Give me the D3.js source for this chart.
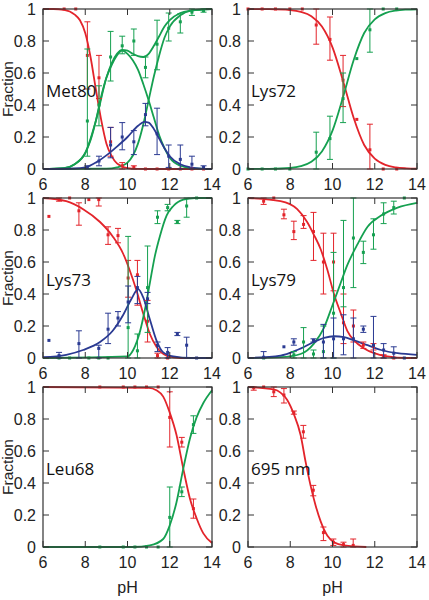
<!DOCTYPE html>
<html><head><meta charset="utf-8">
<script src="https://cdn.jsdelivr.net/npm/d3@7/dist/d3.min.js"></script>
<style>body{margin:0;background:#fff}</style>
</head><body><svg id="c" width="429" height="600"></svg>
<script>
// ---------- tick labels ----------
const xTicks = [6, 8, 10, 12, 14];
const yTicks = [0, 0.2, 0.4, 0.6, 0.8, 1];
const yTickLabels = ["0", "0.2", "0.4", "0.6", "0.8", "1"];
const panelNames = ["Met80", "Lys72", "Lys73", "Lys79", "Leu68", "695 nm"];

// ---------- fitted curves [pH, fraction] ----------
const met80Red = [[6,1],[6.5,1],[7,0.995],[7.5,0.965],[7.75,0.93],[8,0.85],[8.25,0.7],[8.5,0.5],[8.75,0.31],[9,0.16],[9.25,0.08],[9.5,0.035],[10,0.006],[10.5,0.001],[11,0],[14,0]];
const met80GreenB = [[6,0],[7,0.005],[7.5,0.03],[8,0.1],[8.25,0.18],[8.5,0.3],[8.75,0.45],[9,0.57],[9.25,0.65],[9.5,0.71],[9.75,0.74],[10,0.72],[10.25,0.68],[10.5,0.62],[10.75,0.53],[11,0.43],[11.25,0.32],[11.5,0.21],[11.75,0.13],[12,0.07],[12.5,0.02],[13,0.005],[14,0]];
const met80GreenD = [[6,0],[9,0.002],[9.5,0.01],[10,0.04],[10.5,0.16],[10.75,0.28],[11,0.43],[11.25,0.58],[11.5,0.71],[11.75,0.82],[12,0.89],[12.5,0.96],[13,0.99],[14,1]];
const met80GreenSum = [[6,0],[7,0.005],[7.5,0.03],[8,0.1],[8.5,0.3],[9,0.57],[9.5,0.72],[9.75,0.745],[10,0.74],[10.25,0.72],[10.5,0.705],[10.75,0.70],[11,0.72],[11.25,0.77],[11.5,0.83],[11.75,0.89],[12,0.93],[12.5,0.975],[13,0.99],[14,1]];
const met80Blue = [[6,0],[7.5,0.003],[8,0.01],[8.5,0.04],[9,0.085],[9.5,0.14],[10,0.2],[10.5,0.27],[10.8,0.295],[11,0.29],[11.25,0.25],[11.5,0.19],[11.75,0.13],[12,0.08],[12.5,0.03],[13,0.01],[13.5,0.002],[14,0]];

const lys72Red = [[6,1],[7,0.999],[8,0.993],[8.5,0.982],[9,0.955],[9.5,0.89],[10,0.76],[10.5,0.55],[11,0.32],[11.5,0.15],[12,0.065],[12.5,0.026],[13,0.01],[13.5,0.004],[14,0.0015]];
const lys72Green = [[6,0],[7,0.001],[8,0.007],[8.5,0.018],[9,0.045],[9.5,0.11],[10,0.24],[10.5,0.45],[11,0.68],[11.5,0.85],[12,0.935],[12.5,0.974],[13,0.99],[13.5,0.996],[14,0.998]];

const lys73Red = [[6,1],[7.1,0.98],[7.9,0.93],[8.7,0.85],[9.3,0.76],[9.8,0.65],[10.1,0.55],[10.43,0.42],[10.74,0.28],[11.06,0.15],[11.37,0.07],[11.85,0.015],[12.5,0],[14,0]];
const lys73Green = [[6,0],[10,0.01],[10.27,0.05],[10.6,0.17],[10.82,0.3],[11.06,0.47],[11.3,0.64],[11.53,0.76],[11.85,0.89],[12.17,0.95],[12.64,0.99],[13.2,1],[14,1]];
const lys73Blue = [[6,0.005],[7.1,0.02],[7.9,0.05],[8.7,0.1],[9.3,0.17],[9.8,0.27],[10.19,0.37],[10.5,0.43],[10.74,0.38],[11.06,0.24],[11.37,0.11],[11.69,0.035],[12.17,0.01],[13,0],[14,0]];

const lys79Red = [[6,1],[7.54,0.98],[8.33,0.93],[8.8,0.85],[9.12,0.77],[9.44,0.68],[9.76,0.55],[10.07,0.4],[10.39,0.28],[10.7,0.17],[11.02,0.11],[11.5,0.06],[11.97,0.03],[12.6,0.01],[13.5,0],[14,0]];
const lys79Green = [[6,0],[7.54,0.005],[8.49,0.025],[9.12,0.09],[9.6,0.19],[10,0.33],[10.39,0.47],[10.7,0.58],[11.18,0.71],[11.66,0.82],[12.3,0.89],[13.08,0.94],[14,0.97]];
const lys79Blue = [[6,0],[7.54,0.015],[8.33,0.05],[9.12,0.1],[9.6,0.126],[10.07,0.136],[10.55,0.13],[11.02,0.11],[11.66,0.08],[12.3,0.05],[13.08,0.03],[14,0.02]];

const leu68Red = [[6,1],[11,0.995],[11.37,0.98],[11.69,0.94],[12,0.84],[12.32,0.7],[12.64,0.49],[12.96,0.3],[13.27,0.18],[13.59,0.085],[14,0.025]];
const leu68Green = [[6,0],[10.27,0],[11.06,0.01],[11.69,0.05],[12,0.135],[12.32,0.28],[12.64,0.49],[12.96,0.68],[13.27,0.81],[13.59,0.9],[14,0.98]];

const nm695Red = [[6,1],[7.22,0.985],[7.54,0.965],[7.85,0.92],[8.17,0.83],[8.49,0.7],[8.73,0.53],[8.96,0.385],[9.2,0.26],[9.44,0.16],[9.76,0.07],[10.07,0.03],[10.55,0.01],[11.6,0]];

// ---------- measured points [pH, fraction, low, high] ----------
const met80RedPts = [[7.0,1,1,1],[7.55,1,1,1],[8.1,0.71,0.5,0.92],[8.65,0.57,0.44,0.71],[9.2,0.17,0.08,0.26],[9.75,0.02,0,0.04],[10.3,0.01,0,0.02],[10.85,0,0,0],[11.4,0,0,0],[11.95,0,0,0],[12.5,0,0,0],[13.05,0,0,0],[13.6,0,0,0]];
const met80GreenPts = [[8.1,0.3,0.08,0.75],[8.65,0.4,0.27,0.52],[9.2,0.7,0.55,0.86],[9.75,0.77,0.72,0.83],[10.3,0.8,0.71,0.875],[10.85,0.635,0.57,0.7],[11.4,0.78,0.62,0.93],[11.95,0.88,0.8,0.975],[12.5,0.92,0.85,0.97],[13.05,0.98,0.96,1],[13.6,0.99,0.98,1]];
const met80BluePts = [[8.1,0.01,0,0.02],[8.65,0.05,0.02,0.08],[9.2,0.15,0.07,0.26],[9.75,0.2,0.12,0.29],[10.3,0.17,0.09,0.24],[10.85,0.34,0.27,0.41],[11.4,0.22,0.09,0.38],[11.95,0.08,0.01,0.15],[12.5,0.06,0,0.15],[13.05,0.03,0,0.08],[13.6,0.01,0,0.02]];

const lys72RedPts = [[6,1,1,1],[6.67,1,1,1],[7.3,1,1,1],[7.98,1,1,1],[8.57,1,1,1],[9.23,0.9,0.78,1],[9.88,0.81,0.68,0.95],[10.5,0.555,0.39,0.71],[11.15,0.31,0.31,0.31],[11.77,0.12,0,0.28],[12.4,0,0,0],[13.04,0,0,0]];
const lys72GreenPts = [[6,0,0,0],[6.67,0,0,0],[7.3,0,0,0],[7.98,0,0,0],[9.23,0.105,0,0.23],[9.88,0.19,0.06,0.33],[10.5,0.44,0.29,0.6],[11.15,0.69,0.69,0.69],[11.77,0.87,0.73,1],[12.4,1,1,1],[13.04,1,1,1]];

const lys73RedPts = [[6.28,0.885,0.885,0.885],[6.76,0.99,0.98,1],[7.26,1,1,1],[7.7,0.92,0.83,0.97],[8.17,0.99,0.99,0.99],[8.64,0.99,0.95,1],[9.08,0.77,0.71,0.82],[9.55,0.765,0.72,0.81],[10.03,0.5,0.38,0.61],[10.47,0.52,0.33,0.61],[10.95,0.23,0.1,0.36],[11.42,0.015,0,0.03],[11.9,0,0,0]];
const lys73GreenPts = [[6.76,0,0,0],[7.26,0,0,0],[8.17,0,0,0],[8.64,0,0,0],[9.08,0,0,0],[10.03,0.19,0,0.76],[10.47,0.045,0,0.15],[10.95,0.44,0.16,0.7],[11.42,0.88,0.84,0.92],[11.9,0.94,0.92,0.96],[12.36,0.85,0.84,0.86],[12.8,0.95,0.88,1],[13.27,1,1,1]];
const lys73BluePts = [[6.28,0.11,0.11,0.11],[6.76,0.015,0,0.035],[7.7,0.09,0,0.17],[8.64,0.06,0,0.08],[9.08,0.18,0.09,0.28],[9.55,0.25,0.2,0.29],[10.03,0.35,0.22,0.45],[10.47,0.44,0.34,0.51],[10.95,0.37,0.34,0.41],[11.42,0.08,0.04,0.1],[11.9,0.035,0,0.065],[12.36,0.15,0.14,0.16],[12.8,0.08,0,0.13],[13.27,0,0,0]];

const lys79RedPts = [[6.74,0.98,0.96,1],[7.22,1,1,1],[7.7,0.895,0.87,0.93],[8.17,0.79,0.74,0.855],[8.63,0.835,0.81,0.89],[9.1,0.79,0.61,0.91],[9.57,0.6,0.4,0.78],[10.05,0.6,0.42,0.78],[10.52,0.22,0.09,0.4],[10.99,0.2,0.1,0.3],[11.46,0.08,0.06,0.1],[11.94,0.07,0.05,0.09],[12.42,0.01,0,0.02],[12.9,0,0,0]];
const lys79GreenPts = [[6.74,0,0,0],[8.17,0.02,0,0.04],[8.63,0.1,0,0.19],[9.1,0.025,0,0.05],[9.57,0.04,0,0.2],[10.05,0.28,0,0.66],[10.52,0.44,0.32,0.86],[10.99,0.75,0.44,1],[11.46,0.66,0.59,0.73],[11.94,0.77,0.68,0.87],[12.42,0.9,0.84,0.97],[12.9,0.94,0.9,0.98],[13.4,1,1,1]];
const lys79BluePts = [[6.74,0.005,0,0.04],[7.7,0.07,0.07,0.07],[8.17,0.1,0.08,0.12],[9.1,0.11,0.1,0.12],[9.57,0.1,0,0.21],[10.05,0.12,0,0.25],[10.52,0.12,0.02,0.27],[10.99,0.12,0,0.25],[11.46,0.18,0.16,0.2],[11.94,0.08,0,0.26],[12.42,0.05,0,0.09],[12.9,0.03,0,0.07],[13.4,0,0,0]];

const leu68RedPts = [[8.69,1,1,1],[9.8,1,1,1],[10.35,1,1,1],[10.9,1,1,1],[11.45,1,1,1],[12.0,0.81,0.625,0.97],[12.57,0.655,0.625,0.685],[13.12,0.24,0.18,0.3]];
const leu68GreenPts = [[8.69,0,0,0],[9.8,0,0,0],[10.35,0,0,0],[10.9,0,0,0],[11.45,0,0,0],[12.0,0.185,0,0.375],[12.57,0.345,0.315,0.375],[13.12,0.765,0.71,0.82]];

const nm695RedPts = [[6.27,0.995,0.98,1],[6.74,1,1,1],[7.22,0.97,0.94,1],[7.7,0.95,0.9,0.99],[8.17,0.84,0.83,0.85],[8.62,0.72,0.68,0.76],[9.09,0.355,0.32,0.385],[9.57,0.09,0.04,0.125],[10.04,0.03,0.01,0.05],[10.52,0.015,0,0.03],[10.98,0.01,0,0.05]];

// ---------- styling ----------
const RED = "#e3242b", GREEN = "#15a050", BLUE = "#2a3a92", FRAME = "#333";
const colX = [43, 248], rowY = [9, 198, 387], W = 169, H = 160;

const panels = [
  {name: panelNames[0], col: 0, row: 0, curves: [[met80Red, RED], [met80GreenB, GREEN], [met80GreenD, GREEN], [met80GreenSum, GREEN], [met80Blue, BLUE]],
   pts: [[met80RedPts, RED], [met80GreenPts, GREEN], [met80BluePts, BLUE]], ylab: true, xlab: false},
  {name: panelNames[1], col: 1, row: 0, curves: [[lys72Red, RED], [lys72Green, GREEN]],
   pts: [[lys72RedPts, RED], [lys72GreenPts, GREEN]], ylab: false, xlab: false},
  {name: panelNames[2], col: 0, row: 1, curves: [[lys73Red, RED], [lys73Green, GREEN], [lys73Blue, BLUE]],
   pts: [[lys73RedPts, RED], [lys73GreenPts, GREEN], [lys73BluePts, BLUE]], ylab: true, xlab: false},
  {name: panelNames[3], col: 1, row: 1, curves: [[lys79Red, RED], [lys79Green, GREEN], [lys79Blue, BLUE]],
   pts: [[lys79RedPts, RED], [lys79GreenPts, GREEN], [lys79BluePts, BLUE]], ylab: false, xlab: false},
  {name: panelNames[4], col: 0, row: 2, curves: [[leu68Red, RED], [leu68Green, GREEN]],
   pts: [[leu68RedPts, RED], [leu68GreenPts, GREEN]], ylab: true, xlab: true},
  {name: panelNames[5], col: 1, row: 2, curves: [[nm695Red, RED]],
   pts: [[nm695RedPts, RED]], ylab: false, xlab: true}
];

const svg = d3.select("#c");
const tickFont = "'Liberation Sans', Arial, sans-serif";

panels.forEach(p => {
  const x0 = colX[p.col], y0 = rowY[p.row];
  const x = d3.scaleLinear().domain([6, 14]).range([x0, x0 + W]);
  const y = d3.scaleLinear().domain([0, 1]).range([y0 + H, y0]);
  const g = svg.append("g");

  // curves
  const line = d3.line().x(d => x(d[0])).y(d => y(d[1])).curve(d3.curveMonotoneX);
  p.curves.forEach(([data, col]) => {
    g.append("path").attr("d", line(data)).attr("fill", "none")
      .attr("stroke", col).attr("stroke-width", 1.8);
  });

  // points with error bars
  p.pts.forEach(([data, col]) => {
    const pg = g.append("g").attr("stroke", col).attr("fill", col);
    data.forEach(d => {
      const px = x(d[0]);
      if (d[3] - d[2] > 0.005) {
        pg.append("line").attr("x1", px).attr("x2", px).attr("y1", y(d[2])).attr("y2", y(d[3])).attr("stroke-width", 1);
        [d[2], d[3]].forEach(v => pg.append("line").attr("x1", px - 3).attr("x2", px + 3).attr("y1", y(v)).attr("y2", y(v)).attr("stroke-width", 1));
      }
      pg.append("rect").attr("x", px - 1.5).attr("y", y(d[1]) - 1.5).attr("width", 3).attr("height", 3).attr("stroke", "none");
    });
  });

  // frame
  g.append("rect").attr("x", x0).attr("y", y0).attr("width", W).attr("height", H)
    .attr("fill", "none").attr("stroke", FRAME).attr("stroke-width", 1.2);

  // ticks
  xTicks.forEach(t => {
    g.append("line").attr("x1", x(t)).attr("x2", x(t)).attr("y1", y0 + H).attr("y2", y0 + H - 6).attr("stroke", FRAME);
    g.append("line").attr("x1", x(t)).attr("x2", x(t)).attr("y1", y0).attr("y2", y0 + 6).attr("stroke", FRAME);
    g.append("text").attr("x", x(t)).attr("y", y0 + H + 21).attr("text-anchor", "middle")
      .attr("font-family", tickFont).attr("font-size", 16).attr("fill", "#222").text(t);
  });
  yTicks.forEach((t, i) => {
    g.append("line").attr("x1", x0).attr("x2", x0 + 6).attr("y1", y(t)).attr("y2", y(t)).attr("stroke", FRAME);
    g.append("line").attr("x1", x0 + W).attr("x2", x0 + W - 6).attr("y1", y(t)).attr("y2", y(t)).attr("stroke", FRAME);
    g.append("text").attr("x", x0 - 7).attr("y", y(t) + 5.7).attr("text-anchor", "end")
      .attr("font-family", tickFont).attr("font-size", 16).attr("fill", "#222").text(yTickLabels[i]);
  });

  // panel label
  g.append("text").attr("x", x0 + 3).attr("y", y(0.49) + 6).attr("font-family", "'Open Sans', sans-serif")
    .attr("font-size", 17).attr("fill", "#111").text(p.name);

  if (p.ylab) {
    g.append("text").attr("transform", `translate(${13},${y0 + H / 2}) rotate(-90)`)
      .attr("text-anchor", "middle").attr("font-family", tickFont).attr("font-size", 15.5).attr("fill", "#222").text("Fraction");
  }
  if (p.xlab) {
    g.append("text").attr("x", x0 + W / 2).attr("y", y0 + H + 46).attr("text-anchor", "middle")
      .attr("font-family", tickFont).attr("font-size", 16).attr("fill", "#222").text("pH");
  }
});
</script></body></html>
